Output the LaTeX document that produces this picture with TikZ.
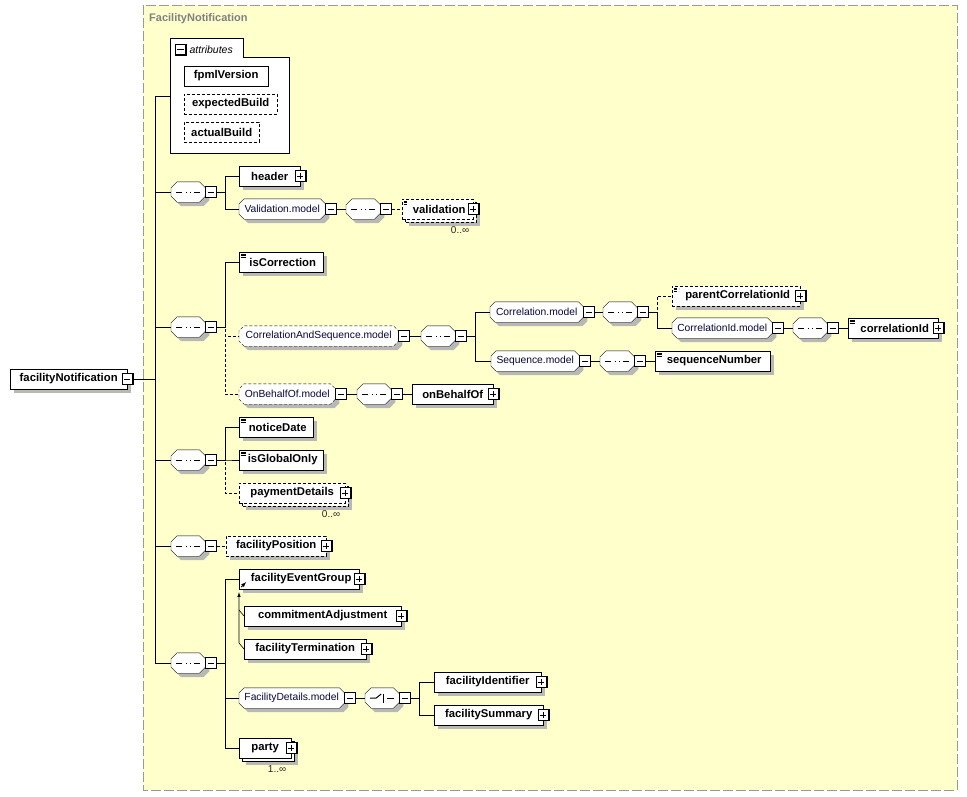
\documentclass[tikz,border=0pt]{standalone}
\usepackage{fontspec}
\setmainfont{Liberation Sans}
\usepackage{tikz}
\usetikzlibrary{arrows,positioning}

\definecolor{paper}{HTML}{FFFFCC}
\definecolor{frameline}{HTML}{999999}
\definecolor{titlegray}{HTML}{808080}
\definecolor{shadowgray}{HTML}{B8B8B4}
\definecolor{grptext}{HTML}{06063A}

\pgfdeclarelayer{back}
\pgfdeclarelayer{shadows}
\pgfsetlayers{back,shadows,main}

% octagon with cut corners, for model groups and compositors
\makeatletter
\newdimen\octl \newdimen\octr \newdimen\octb \newdimen\octt \newdimen\octc
\newdimen\octli \newdimen\octri \newdimen\octbi \newdimen\octti
\pgfkeys{/pgf/octo cut/.initial=5pt}
\pgfdeclareshape{octo}{
  \inheritsavedanchors[from=rectangle]
  \inheritanchorborder[from=rectangle]
  \inheritanchor[from=rectangle]{center}
  \inheritanchor[from=rectangle]{north}
  \inheritanchor[from=rectangle]{south}
  \inheritanchor[from=rectangle]{west}
  \inheritanchor[from=rectangle]{east}
  \inheritanchor[from=rectangle]{north west}
  \inheritanchor[from=rectangle]{north east}
  \inheritanchor[from=rectangle]{south west}
  \inheritanchor[from=rectangle]{south east}
  \inheritanchor[from=rectangle]{base}
  \inheritanchor[from=rectangle]{mid}
  \backgroundpath{%
    \southwest \octl=\pgf@x \octb=\pgf@y
    \northeast \octr=\pgf@x \octt=\pgf@y
    \pgfmathsetlength\octc{\pgfkeysvalueof{/pgf/octo cut}}%
    \octli=\octl \advance\octli by \octc
    \octri=\octr \advance\octri by -\octc
    \octbi=\octb \advance\octbi by \octc
    \octti=\octt \advance\octti by -\octc
    \pgfpathmoveto{\pgfqpoint{\octli}{\octb}}%
    \pgfpathlineto{\pgfqpoint{\octri}{\octb}}%
    \pgfpathlineto{\pgfqpoint{\octr}{\octbi}}%
    \pgfpathlineto{\pgfqpoint{\octr}{\octti}}%
    \pgfpathlineto{\pgfqpoint{\octri}{\octt}}%
    \pgfpathlineto{\pgfqpoint{\octli}{\octt}}%
    \pgfpathlineto{\pgfqpoint{\octl}{\octti}}%
    \pgfpathlineto{\pgfqpoint{\octl}{\octbi}}%
    \pgfpathclose
  }
}
\makeatother

\tikzset{
  dsh/.style={dash pattern=on 3pt off 2pt},
  elem/.style={draw,fill=white,anchor=west,minimum height=20pt,inner xsep=1pt,inner ysep=0pt,
    font=\fontsize{11.3}{13}\selectfont\bfseries},
  optelem/.style={elem,dsh},
  grp/.style={octo,/pgf/octo cut=5pt,draw,fill=white,anchor=west,
    minimum height=20pt,inner xsep=1pt,inner ysep=0pt,text=grptext,font=\fontsize{10.3}{12}\selectfont},
  optgrp/.style={grp,dsh},
  comp/.style={octo,/pgf/octo cut=6pt,draw,fill=white,anchor=west,
    minimum width=34pt,minimum height=20pt,inner sep=0pt},
  seqc/.style={comp,path picture={
    \draw[line width=1pt] ([xshift=-12pt]path picture bounding box.center) -- ([xshift=12pt]path picture bounding box.center);
    \foreach \k in {-4.3,0,4.3}
      \fill ([xshift=\k pt-1.6pt,yshift=-1.6pt]path picture bounding box.center) rectangle +(3.2pt,3.2pt);
  }},
  choc/.style={comp,path picture={
    \draw[line width=1pt] ([xshift=-12pt]path picture bounding box.center) -- ([xshift=-6pt]path picture bounding box.center)
      -- ([xshift=-1pt,yshift=4pt]path picture bounding box.center);
    \draw[line width=1pt] ([xshift=1.5pt,yshift=4.5pt]path picture bounding box.center) -- ([xshift=1.5pt,yshift=-4.5pt]path picture bounding box.center);
    \foreach \k in {-5,-1,3}
      \fill ([xshift=2pt,yshift=\k pt]path picture bounding box.center) rectangle +(2.5pt,2pt);
    \draw[line width=1pt] ([xshift=4.5pt]path picture bounding box.center) -- ([xshift=12pt]path picture bounding box.center);
  }},
  pmb/.style={draw,fill=white,minimum size=11pt,inner sep=0pt,line width=.8pt},
  mbox/.style={pmb,path picture={
    \draw[line width=2pt] (path picture bounding box.north east) -- (path picture bounding box.south east) -- (path picture bounding box.south west);
    \draw[line width=.9pt] ([xshift=-3.5pt]path picture bounding box.center) -- ([xshift=3pt]path picture bounding box.center);
  }},
  pbox/.style={pmb,path picture={
    \draw[line width=2pt] (path picture bounding box.north east) -- (path picture bounding box.south east) -- (path picture bounding box.south west);
    \draw[line width=.9pt] ([xshift=-3.5pt]path picture bounding box.center) -- ([xshift=3pt]path picture bounding box.center);
    \draw[line width=.9pt] ([yshift=-3pt]path picture bounding box.center) -- ([yshift=3.5pt]path picture bounding box.center);
  }},
  stype/.style={path picture={
    \foreach \k in {2,3.5,5}
      \draw[line width=.6pt] ([shift={(1.5pt,-\k pt)}]path picture bounding box.north west) -- +(5pt,0pt);
  }},
  refel/.style={path picture={
    \draw[line width=.8pt,-latex] ([shift={(2pt,2pt)}]path picture bounding box.south west) -- +(5pt,5pt);
  }},
  occ/.style={inner sep=0pt,anchor=north east,font=\fontsize{10}{12}\selectfont,text=black!85},
}

\begin{document}
\begin{tikzpicture}[x=1pt,y=-1pt,line width=1pt]
\useasboundingbox (0,0) rectangle (967,796);
% complex type frame
\begin{pgfonlayer}{back}
\draw[frameline,fill=paper,dash pattern=on 10pt off 3pt] (143,5) rectangle (957,790);
\end{pgfonlayer}
\node[anchor=west,inner sep=0pt,text=titlegray,font=\fontsize{11}{13}\selectfont\bfseries] (ctitle) at (149,19) {FacilityNotification};

% root element
\node[elem,minimum width=117pt] (fN) at (10,379) {facilityNotification\hspace{4pt}};
\node[mbox] (fNm) at (fN.east) {};

% attributes
\node[anchor=north west,minimum width=119pt,minimum height=115pt,inner sep=0pt] (attr) at (170,38) {};
\coordinate (tabc) at (243,57);
\draw[fill=white] (attr.south west) -- (attr.north west) -- (tabc |- attr.north) -- (tabc) -- (attr.east |- tabc) -- (attr.south east) -- cycle;
\node[mbox] (attrm) at (180.5,49.5) {};
\node[right=3pt of attrm,inner sep=0pt,font=\fontsize{10.5}{12}\selectfont\itshape] (attrl) {attributes};
\node[elem,minimum width=84pt] (fpml) at (184,76) {fpmlVersion};
\node[optelem,minimum width=93pt] (expB) at (184,104) {expectedBuild};
\node[optelem,minimum width=75pt] (actB) at (184,132) {actualBuild};

% header / validation
\node[seqc] (s1) at (171,192) {};
\node[mbox,anchor=west] (s1m) at (s1.east) {};
\node[elem,minimum width=61pt] (hdr) at (239,176) {header\hspace{6pt}};
\node[pbox] (hdrp) at (hdr.east) {};
\node[grp,minimum width=86pt] (valm) at (239,209) {Validation.model};
\node[mbox,anchor=west] (valmm) at (valm.east) {};
\node[seqc] (s1b) at (346,209) {};
\node[mbox,anchor=west] (s1bm) at (s1b.east) {};
\node[optelem,stype,minimum width=71pt] (valid) at (402,209) {\hspace{3pt}validation\hspace{6pt}};
\node[pbox] (validp) at (valid.east) {};
\node[occ] (valido) at ([xshift=-4pt,yshift=-7pt]valid.south east) {0..∞};

\draw (s1m.east) -- +(8,0) |- (hdr.west);
\draw (s1m.east) -- +(8,0) |- (valm.west);
\draw (valmm) -- (s1b);
\draw[dsh] (s1bm) -- (valid);

% correction / correlation / on behalf of
\node[seqc] (s2) at (171,327) {};
\node[mbox,anchor=west] (s2m) at (s2.east) {};
\node[elem,stype,minimum width=84pt] (isC) at (239,262) {\hspace{3pt}isCorrection};
\node[optgrp,minimum width=159pt] (cas) at (239,336) {CorrelationAndSequence.model};
\node[mbox,anchor=west] (casm) at (cas.east) {};
\node[seqc] (s2b) at (421,336) {};
\node[mbox,anchor=west] (s2bm) at (s2b.east) {};
\node[grp,minimum width=93pt] (corm) at (490,312) {Correlation.model};
\node[mbox,anchor=west] (cormm) at (corm.east) {};
\node[seqc] (s2c) at (603,312) {};
\node[mbox,anchor=west] (s2cm) at (s2c.east) {};
\node[optelem,stype,minimum width=128pt] (pcid) at (672,296) {\hspace{3pt}parentCorrelationId\hspace{6pt}};
\node[pbox] (pcidp) at (pcid.east) {};
\node[grp,minimum width=100pt] (cidm) at (672,328) {CorrelationId.model};
\node[mbox,anchor=west] (cidmm) at (cidm.east) {};
\node[seqc] (s2d) at (793,328) {};
\node[mbox,anchor=west] (s2dm) at (s2d.east) {};
\node[elem,stype,minimum width=90pt] (cid) at (848,328) {\hspace{3pt}correlationId\hspace{6pt}};
\node[pbox] (cidp) at (cid.east) {};
\node[grp,minimum width=88pt] (seqm) at (491,361) {Sequence.model};
\node[mbox,anchor=west] (seqmm) at (seqm.east) {};
\node[seqc] (s2e) at (600,361) {};
\node[mbox,anchor=west] (s2em) at (s2e.east) {};
\node[elem,stype,minimum width=115pt] (seqN) at (655,361) {\hspace{3pt}sequenceNumber};
\node[optgrp,minimum width=96pt] (obom) at (239,394) {OnBehalfOf.model};
\node[mbox,anchor=west] (obomm) at (obom.east) {};
\node[seqc] (s2f) at (357,394) {};
\node[mbox,anchor=west] (s2fm) at (s2f.east) {};
\node[elem,minimum width=81pt] (obo) at (412,394) {onBehalfOf\hspace{6pt}};
\node[pbox] (obop) at (obo.east) {};

\draw (s2m.east) -- +(8,0) |- (isC.west);
\draw[dsh] (s2m.east) -- +(8,0) |- (cas.west);
\draw[dsh] (s2m.east) -- +(8,0) |- (obom.west);
\draw (casm) -- (s2b);
\draw (s2bm.east) -- +(8,0) |- (corm.west);
\draw (s2bm.east) -- +(8,0) |- (seqm.west);
\draw (cormm) -- (s2c);
\draw[dsh] (s2cm.east) -- +(8,0) |- (pcid.west);
\draw (s2cm.east) -- +(8,0) |- (cidm.west);
\draw (cidmm) -- (s2d);
\draw (s2dm) -- (cid);
\draw (seqmm) -- (s2e);
\draw (s2em) -- (seqN);
\draw (obomm) -- (s2f);
\draw (s2fm) -- (obo);

% notice date group
\node[seqc] (s3) at (171,460) {};
\node[mbox,anchor=west] (s3m) at (s3.east) {};
\node[elem,stype,minimum width=74pt] (notD) at (239,427) {\hspace{3pt}noticeDate};
\node[elem,stype,minimum width=84pt] (isG) at (239,460) {\hspace{3pt}isGlobalOnly};
\node[optelem,minimum width=106pt] (payD) at (239,493) {paymentDetails\hspace{6pt}};
\node[pbox] (payDp) at (payD.east) {};
\node[occ] (payDo) at ([xshift=-5pt,yshift=-7pt]payD.south east) {0..∞};

\draw (s3m.east) -- +(8,0) |- (notD.west);
\draw (s3m.east) -- +(8,0) |- (isG.west);
\draw[dsh] (s3m.east) -- +(8,0) |- (payD.west);

% facility position
\node[seqc] (s4) at (171,546) {};
\node[mbox,anchor=west] (s4m) at (s4.east) {};
\node[optelem,minimum width=100pt] (facP) at (226,546) {facilityPosition\hspace{6pt}};
\node[pbox] (facPp) at (facP.east) {};
\draw[dsh] (s4m) -- (facP);

% events, details, party
\node[seqc] (s5) at (171,663) {};
\node[mbox,anchor=west] (s5m) at (s5.east) {};
\node[elem,refel,minimum width=120pt] (fEG) at (239,579) {\hspace{4pt}facilityEventGroup\hspace{6pt}};
\node[pbox] (fEGp) at (fEG.east) {};
\node[elem,minimum width=157pt] (cAdj) at (244,616) {commitmentAdjustment\hspace{6pt}};
\node[pbox] (cAdjp) at (cAdj.east) {};
\node[elem,minimum width=122pt] (fTerm) at (244,649) {facilityTermination\hspace{6pt}};
\node[pbox] (fTermp) at (fTerm.east) {};
\node[grp,minimum width=105pt] (fDm) at (239,698) {FacilityDetails.model};
\node[mbox,anchor=west] (fDmm) at (fDm.east) {};
\node[choc] (ch) at (365,698) {};
\node[mbox,anchor=west] (chm) at (ch.east) {};
\node[elem,minimum width=107pt] (fId) at (434,682) {facilityIdentifier\hspace{6pt}};
\node[pbox] (fIdp) at (fId.east) {};
\node[elem,minimum width=109pt] (fSum) at (434,715) {facilitySummary\hspace{6pt}};
\node[pbox] (fSump) at (fSum.east) {};
\node[elem,minimum width=52pt] (party) at (239,748) {party\hspace{6pt}};
\node[pbox] (partyp) at (party.east) {};
\node[occ] (partyo) at ([xshift=-5pt,yshift=-7pt]party.south east) {1..∞};

\draw (s5m.east) -- +(8,0) |- (fEG.west);
\draw (s5m.east) -- +(8,0) |- (fDm.west);
\draw (s5m.east) -- +(8,0) |- (party.west);
\draw (fDmm) -- (ch);
\draw (chm.east) -- +(8,0) |- (fId.west);
\draw (chm.east) -- +(8,0) |- (fSum.west);
\draw[line width=.6pt] (cAdj.west) -- +(-5,-6);
\draw[line width=.6pt,-latex,shorten >=3pt] (fTerm.west) -- +(-5,-6) -- (fEG.south west);

% root connectors
\draw (fNm.east) -- +(22,0) |- (attr.west);
\foreach \s in {s1,s2,s3,s4,s5}
  \draw (fNm.east) -- +(22,0) |- (\s.west);

% shadows and repeated copies
\begin{pgfonlayer}{shadows}
\foreach \n in {fN,fpml,expB,actB,hdr,isC,pcid,cid,seqN,obo,notD,isG,facP,fEG,cAdj,fTerm,fId,fSum}
  \fill[shadowgray] ([shift={(4pt,-4pt)}]\n.south west) rectangle ([shift={(4pt,-4pt)}]\n.north east);
\foreach \n/\st in {valid/dsh,payD/dsh,party/solid}{
  \fill[shadowgray] ([shift={(7pt,-7pt)}]\n.south west) rectangle ([shift={(7pt,-7pt)}]\n.north east);
  \draw[\st,fill=white] ([shift={(3pt,-3pt)}]\n.south west) rectangle ([shift={(3pt,-3pt)}]\n.north east);
}
\foreach \n/\c in {valm/5,cas/5,corm/5,cidm/5,seqm/5,obom/5,fDm/5,s1/6,s1b/6,s2/6,s2b/6,s2c/6,s2d/6,s2e/6,s2f/6,s3/6,s4/6,s5/6,ch/6}
  \fill[shadowgray] ([shift={(4pt+\c pt,-4pt)}]\n.south west) -- ([shift={(4pt-\c pt,-4pt)}]\n.south east)
    -- ([shift={(4pt,-4pt+\c pt)}]\n.south east) -- ([shift={(4pt,-4pt-\c pt)}]\n.north east)
    -- ([shift={(4pt-\c pt,-4pt)}]\n.north east) -- ([shift={(4pt+\c pt,-4pt)}]\n.north west)
    -- ([shift={(4pt,-4pt-\c pt)}]\n.north west) -- ([shift={(4pt,-4pt+\c pt)}]\n.south west) -- cycle;
\end{pgfonlayer}
\end{tikzpicture}
\end{document}
